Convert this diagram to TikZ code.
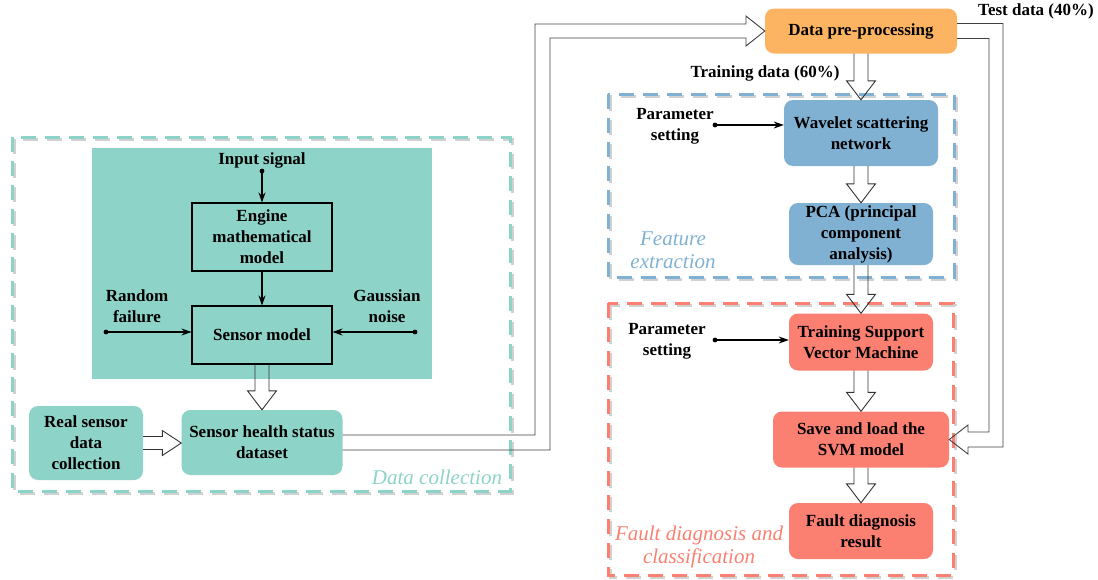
\documentclass[tikz,border=0pt]{standalone}
\usepackage{fontspec}
\setmainfont{Liberation Serif}
\usepackage{tikz}
\usetikzlibrary{positioning, arrows.meta, calc}

\definecolor{setteal}{HTML}{8DD3C7}
\definecolor{setblue}{HTML}{80B1D3}
\definecolor{setred}{HTML}{FB8072}
\definecolor{setorange}{HTML}{FDB462}

\newcommand{\boxfont}{\fontsize{17}{21}\selectfont\bfseries}
\newcommand{\zonefont}{\fontsize{21}{23.5}\selectfont\itshape}

% hollow block arrows between two nodes
\newcommand{\blockdown}[2]{%
  \draw[hollow] let \p1=(#1), \p2=(#2) in
    (\x1-7pt,\y1) -- (\x1-7pt,\y2+19pt) -- (\x1-14.5pt,\y2+19pt) -- (\x1,\y2)
    -- (\x1+14.5pt,\y2+19pt) -- (\x1+7pt,\y2+19pt) -- (\x1+7pt,\y1);}
\newcommand{\blockright}[2]{%
  \draw[hollow] let \p1=(#1), \p2=(#2) in
    (\x1,\y1+6.5pt) -- (\x2-19pt,\y1+6.5pt) -- (\x2-19pt,\y1+12.5pt) -- (\x2,\y1)
    -- (\x2-19pt,\y1-12.5pt) -- (\x2-19pt,\y1-6.5pt) -- (\x1,\y1-6.5pt);}

\tikzset{
every node/.style={align=center, inner sep=0pt, font=\boxfont}, % bold serif labels everywhere
plain/.style={draw=black, line width=1.1pt, fill=setteal}, % square boxes of the model
block/.style={rounded corners=9pt}, % rounded process boxes
zone/.style={line width=3pt, dash pattern=on 15pt off 9pt}, % dashed group frames
shade/.style={zone, black!18, shift={(2,2)}}, % grey halo under the frames
tip/.style={-{Stealth[length=10pt,width=7pt]}, line width=1.1pt}, % thin signal arrows
hollow/.style={draw=black!80, line width=0.9pt, line join=miter}, % open block arrows
pipe/.style={draw=black!75, line width=0.9pt},
}

\begin{document}
\begin{tikzpicture}[x=1pt, y=-1pt]
\useasboundingbox (0,0) rectangle (1098,579);

% group frames
\draw[shade] (12,137) rectangle (510,491);
\draw[zone, setteal] (12,137) rectangle (510,491);
\draw[shade] (608,94) rectangle (954,277);
\draw[zone, setblue] (608,94) rectangle (954,277);
\draw[shade] (608,303) rectangle (953,575);
\draw[zone, setred] (608,303) rectangle (953,575);

% data collection
\fill[setteal] (92,148) rectangle (432,379);
\node (inlbl) at (262,160) {Input signal};
\coordinate (indot) at (262,171);
\node[plain, minimum width=140pt, minimum height=68pt] (eng) at (262,237) {Engine\\mathematical\\model};
\node[plain, minimum width=140pt, minimum height=58pt] (sen) at (262,335) {Sensor model};
\node (rflbl) at (137,306) {Random\\failure};
\coordinate (rfdot) at (106,332);
\node (gnlbl) at (387,306) {Gaussian\\noise};
\coordinate (gndot) at (415,332);
\node[block, fill=setteal, minimum width=161pt, minimum height=65pt] (hs) at (262,442.5) {Sensor health status\\dataset};
\node[block, fill=setteal, minimum width=114pt, minimum height=74pt] (real) at (86,443) {Real sensor\\data\\collection};
\node[font=\zonefont, text=setteal] (dclbl) at (437,477) {Data collection};

% pre-processing
\node[block, fill=setorange, minimum width=192pt, minimum height=45pt] (pre) at (861,31) {Data pre-processing};
\node (testlbl) at (1036,11) {Test data (40\%)};
\node (trainlbl) at (765,73) {Training data (60\%)};

% feature extraction
\node[block, fill=setblue, minimum width=154pt, minimum height=66pt] (wav) at (861,133) {Wavelet scattering\\network};
\node[block, fill=setblue, minimum width=144pt, minimum height=62pt] (pca) at (861,234) {PCA (principal\\component\\analysis)};
\node (ps1) at (675,126) {Parameter\\setting};
\coordinate (p1dot) at (715,125);
\node[font=\zonefont, text=setblue] (felbl) at (673,250) {Feature\\extraction};

% fault diagnosis
\node[block, fill=setred, minimum width=144pt, minimum height=57pt] (svm) at (861,342) {Training Support\\Vector Machine};
\node[block, fill=setred, minimum width=176pt, minimum height=56pt] (sav) at (861,439.5) {Save and load the\\SVM model};
\node[block, fill=setred, minimum width=144pt, minimum height=56pt] (res) at (861,531) {Fault diagnosis\\result};
\node (ps2) at (667,341) {Parameter\\setting};
\coordinate (p2dot) at (715,340);
\node[font=\zonefont, text=setred] (fdlbl) at (699,547) {Fault diagnosis and\\classification};

% signals
\draw[tip] (indot) -- (eng.north);
\draw[tip] (eng) -- (sen);
\draw[tip] (rfdot) -- (rfdot -| sen.west);
\draw[tip] (gndot) -- (gndot -| sen.east);
\draw[tip] (p1dot) -- (p1dot -| wav.west);
\draw[tip] (p2dot) -- (p2dot -| svm.west);
\foreach \d in {indot, rfdot, gndot, p1dot, p2dot}
  \fill (\d) circle[radius=2.4pt];

% block arrows
\blockdown{sen.south}{hs.north}
\blockright{real.east}{hs.west}
\blockdown{pre.south}{wav.north}
\blockdown{wav.south}{pca.north}
\blockdown{pca.south}{svm.north}
\blockdown{svm.south}{sav.north}
\blockdown{sav.south}{res.north}

% pipes
\draw[pipe] ([yshift=7.5pt]hs.east) -| (535,24) -- (746,24) -- (746,16) -- (pre.west)
  -- (746,46) -- (746,38) -- (550,38) |- ([yshift=-7.5pt]hs.east);
\draw[pipe] ([yshift=7.5pt]pre.east) -| (1003,447) -- (968,447) -- (968,454) -- (sav.east)
  -- (968,425) -- (968,432) -- (989,432) |- ([yshift=-7.5pt]pre.east);
\end{tikzpicture}
\end{document}
